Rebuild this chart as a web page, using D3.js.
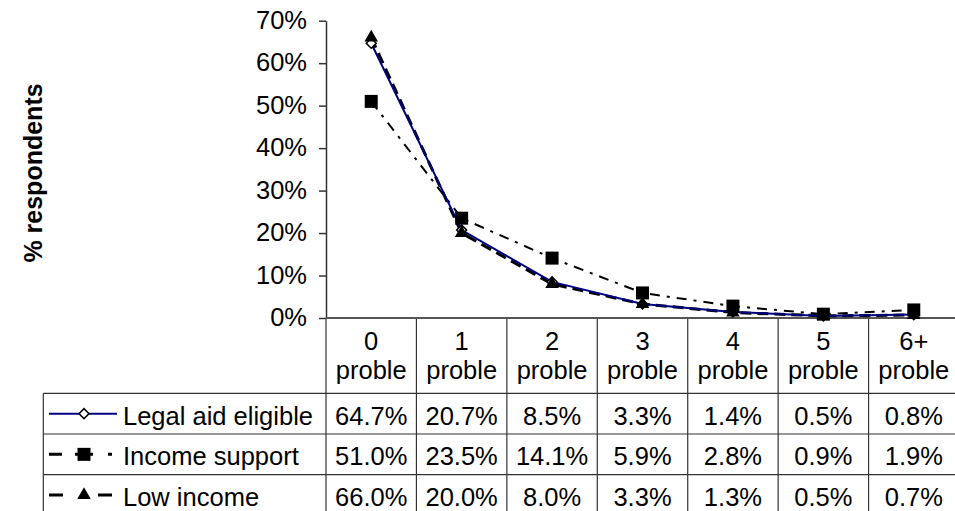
<!DOCTYPE html>
<html>
<head>
<meta charset="utf-8">
<script src="https://cdn.jsdelivr.net/npm/d3@7"></script>
<style>
  html, body { margin: 0; padding: 0; background: #fff; }
  svg { display: block; font-family: "Liberation Sans", Arial, sans-serif; }
</style>
</head>
<body>
<svg id="chart" width="955" height="511"></svg>
<script>
// Number of problems reported (category labels, wrapped at the space)
const categories = ["0 proble", "1 proble", "2 proble", "3 proble", "4 proble", "5 proble", "6+ proble"];

// Share of respondents, in percent
const legalAidEligible = [64.7, 20.7, 8.5, 3.3, 1.4, 0.5, 0.8];
const incomeSupport    = [51.0, 23.5, 14.1, 5.9, 2.8, 0.9, 1.9];
const lowIncome        = [66.0, 20.0, 8.0, 3.3, 1.3, 0.5, 0.7];

const seriesNames = ["Legal aid eligible", "Income support", "Low income"];
const yTicks = [0, 10, 20, 30, 40, 50, 60, 70];

const series = [
  { name: seriesNames[0], values: legalAidEligible, color: "#000080", width: 2,   dash: null,       legendDash: null,               marker: "diamond" },
  { name: seriesNames[1], values: incomeSupport,    color: "#000",    width: 2,   dash: "10,7,3,7", legendDash: "13,13,18,15,4,10", marker: "square" },
  { name: seriesNames[2], values: lowIncome,        color: "#000",    width: 3,   dash: "11,6",     legendDash: "14,35,14",         marker: "triangle" }
];

const svg = d3.select("#chart");
const fontSize = 25.5;
const gridColor = "#333";

const x = d3.scaleBand().domain(categories).range([326, 959]).paddingInner(0).paddingOuter(0);
const y = d3.scaleLinear().domain([0, 70]).range([318, 20.7]);
const cx = c => x(c) + x.bandwidth() / 2;

// Y axis
const yAxis = d3.axisLeft(y)
  .tickValues(yTicks)
  .tickSize(7)
  .tickSizeOuter(0)
  .tickPadding(12)
  .tickFormat(d => d + "%");

const gy = svg.append("g").attr("transform", "translate(326,0)").call(yAxis);
gy.select(".domain").attr("stroke", gridColor).attr("stroke-width", 1.5);
gy.selectAll(".tick line").attr("stroke", gridColor).attr("stroke-width", 1.5);
gy.selectAll(".tick text")
  .attr("font-size", fontSize)
  .attr("font-family", "'Liberation Sans', Arial, sans-serif")
  .attr("fill", "#000")
  .attr("dy", "0.3em");

// Y axis title
svg.append("text")
  .attr("transform", "translate(42,173) rotate(-90)")
  .attr("text-anchor", "middle")
  .attr("font-size", 25)
  .attr("font-weight", "bold")
  .attr("fill", "#000")
  .text("% respondents");

// Data table under the plot
const headerTop = 318, headerBottom = 393.3, rowH = 40.7, legendLeft = 43.3, tableRight = 960;
const table = svg.append("g").attr("class", "data-table");

// vertical cell borders between categories (and the left edge of the first)
const boundaries = categories.map(c => x(c));
table.selectAll("line.vb").data(boundaries).join("line")
  .attr("x1", d => d).attr("x2", d => d)
  .attr("y1", headerTop).attr("y2", 520)
  .attr("stroke", gridColor).attr("stroke-width", 1.2);

// legend column left border
table.append("line")
  .attr("x1", legendLeft).attr("x2", legendLeft)
  .attr("y1", headerBottom).attr("y2", 520)
  .attr("stroke", gridColor).attr("stroke-width", 1.2);

// horizontal row borders
const rowLines = d3.range(series.length).map(i => headerBottom + i * rowH);
table.selectAll("line.hb").data(rowLines).join("line")
  .attr("x1", legendLeft).attr("x2", tableRight)
  .attr("y1", d => d).attr("y2", d => d)
  .attr("stroke", gridColor).attr("stroke-width", 1.2);

// header labels, two lines
const header = table.selectAll("g.head").data(categories).join("g")
  .attr("transform", c => `translate(${cx(c)},${headerTop})`);
header.append("text")
  .attr("text-anchor", "middle").attr("y", 31.5).attr("font-size", fontSize)
  .text(c => c.split(" ")[0]);
header.append("text")
  .attr("text-anchor", "middle").attr("y", 61.4).attr("font-size", fontSize)
  .text(c => c.split(" ").slice(1).join(" "));

// X axis line (top of the table)
svg.append("line")
  .attr("x1", 326).attr("x2", tableRight)
  .attr("y1", y(0)).attr("y2", y(0))
  .attr("stroke", "#555").attr("stroke-width", 2);

// Series lines: dashed black series underneath, navy solid series on top
const line = d3.line().x((d, i) => cx(categories[i])).y(d => y(d));
const plot = svg.append("g").attr("class", "plot");

[series[2], series[1], series[0]].forEach(s => {
  plot.append("path")
    .datum(s.values)
    .attr("d", line)
    .attr("fill", "none")
    .attr("stroke", s.color)
    .attr("stroke-width", s.width)
    .attr("stroke-dasharray", s.dash)
    .attr("stroke-linejoin", "round");
});

function drawMarker(sel, type) {
  if (type === "diamond") {
    sel.append("path")
      .attr("d", d3.symbol(d3.symbolSquare, 50)())
      .attr("transform", "rotate(45)")
      .attr("fill", "#fff").attr("stroke", "#000").attr("stroke-width", 1.5);
  } else if (type === "square") {
    sel.append("path")
      .attr("d", d3.symbol(d3.symbolSquare, 169)())
      .attr("fill", "#000");
  } else {
    sel.append("path")
      .attr("d", d3.symbol(d3.symbolTriangle, 80)())
      .attr("fill", "#000");
  }
}

series.forEach(s => {
  const g = plot.append("g").selectAll("g").data(s.values).join("g")
    .attr("transform", (d, i) => `translate(${cx(categories[i])},${y(d)})`);
  drawMarker(g, s.marker);
});

// Legend key + values rows
series.forEach((s, r) => {
  const mid = headerBottom + r * rowH + rowH / 2;
  const row = svg.append("g");
  row.append("line")
    .attr("x1", 49).attr("x2", 117).attr("y1", mid).attr("y2", mid)
    .attr("stroke", s.color).attr("stroke-width", s.marker === "diamond" ? 2 : 3)
    .attr("stroke-dasharray", s.legendDash);
  const mk = row.append("g").attr("transform", `translate(84,${mid})`);
  drawMarker(mk, s.marker);
  row.append("text")
    .attr("x", 123).attr("y", mid + 11)
    .attr("font-size", fontSize)
    .text(s.name);
  row.selectAll("text.v").data(s.values).join("text")
    .attr("x", (d, i) => cx(categories[i]))
    .attr("y", mid + 11)
    .attr("text-anchor", "middle")
    .attr("font-size", fontSize)
    .text(d => d.toFixed(1) + "%");
});
</script>
</body>
</html>
